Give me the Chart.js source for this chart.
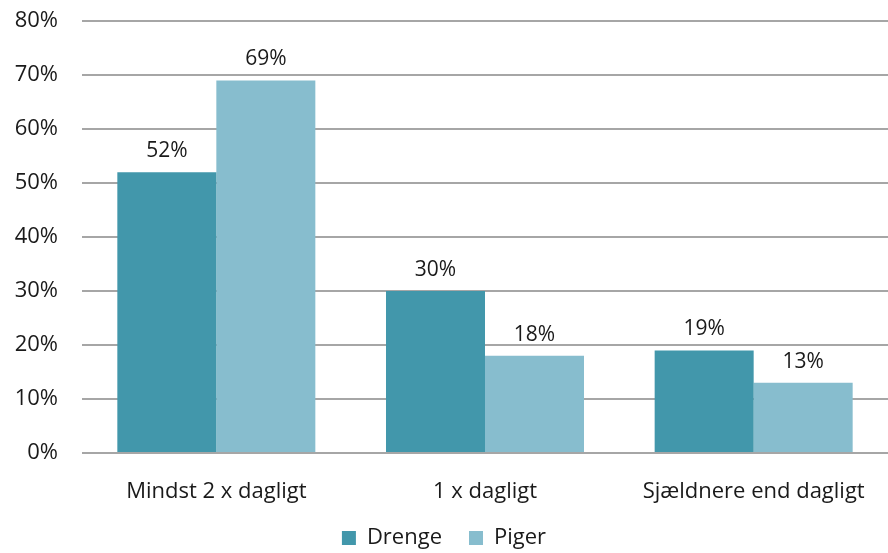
<!DOCTYPE html>
<html>
<head>
<meta charset="utf-8">
<script src="https://cdn.jsdelivr.net/npm/chart.js@4/dist/chart.umd.min.js"></script>
<style>
  html, body { margin: 0; padding: 0; background: #ffffff; }
  #wrap { width: 888px; height: 553px; position: relative; }
</style>
</head>
<body>
<div id="wrap"><canvas id="c"></canvas></div>
<script>
const categories = ['Mindst 2 x dagligt', '1 x dagligt', 'Sjældnere end dagligt'];
const drenge = [52, 30, 19];
const piger = [69, 18, 13];
const seriesNames = ['Drenge', 'Piger'];
const yTicks = [0, 10, 20, 30, 40, 50, 60, 70, 80];

const FONT = "'Open Sans', 'Noto Sans', sans-serif";
const TEXT = '#1a1a1a';
const LEGEND_PAD = 27;
const LEGEND_FIT_H = 30;
const LEGEND_CENTER_Y = 538;

// Percent labels written above every bar
const valueLabels = {
  id: 'valueLabels',
  afterDatasetsDraw(chart) {
    const ctx = chart.ctx;
    ctx.save();
    ctx.font = '21px ' + FONT;
    ctx.fillStyle = TEXT;
    ctx.textAlign = 'center';
    ctx.textBaseline = 'alphabetic';
    chart.data.datasets.forEach((ds, i) => {
      chart.getDatasetMeta(i).data.forEach((bar, j) => {
        ctx.fillText(ds.data[j] + '%', bar.x, bar.y - 15);
      });
    });
    ctx.restore();
  }
};

// Compact legend box (wide item spacing, short height) near the bottom edge
const legendPlacement = {
  id: 'legendPlacement',
  beforeLayout(chart) {
    const lg = chart.legend;
    if (lg && !lg._compactFit) {
      const fit = lg.fit.bind(lg);
      lg.fit = function () { fit(); this.height = LEGEND_FIT_H; };
      lg._compactFit = true;
    }
  },
  afterLayout(chart) {
    const lg = chart.legend;
    if (!lg) return;
    lg.top = LEGEND_CENTER_Y - LEGEND_PAD - 11;
    lg.bottom = chart.height;
  }
};

new Chart(document.getElementById('c'), {
  type: 'bar',
  data: {
    labels: categories,
    datasets: [
      { label: seriesNames[0], data: drenge, backgroundColor: '#4297AB' },
      { label: seriesNames[1], data: piger, backgroundColor: '#87BDCE' }
    ]
  },
  options: {
    responsive: true,
    maintainAspectRatio: false,
    animation: false,
    layout: { padding: { top: 21, right: 0, left: 0, bottom: 0 } },
    datasets: { bar: { categoryPercentage: 0.737, barPercentage: 1.0 } },
    scales: {
      x: {
        grid: { display: false },
        border: { display: false },
        ticks: { color: TEXT, font: { family: FONT, size: 22 }, padding: 18, autoSkip: false, maxRotation: 0 },
        afterFit(axis) { axis.height = 70; }
      },
      y: {
        min: 0,
        max: 80,
        afterBuildTicks(axis) { axis.ticks = yTicks.map(v => ({ value: v })); },
        afterFit(axis) { axis.width = 82; },
        grid: { color: '#A6A6A6', lineWidth: 2, drawTicks: true, tickLength: 24, tickColor: 'rgba(0,0,0,0)' },
        border: { display: false },
        ticks: {
          color: TEXT,
          font: { family: FONT, size: 22 },
          padding: 0,
          callback: v => v + '%'
        }
      }
    },
    plugins: {
      legend: {
        position: 'bottom',
        labels: {
          color: TEXT,
          font: { family: FONT, size: 22 },
          boxWidth: 14,
          boxHeight: 14,
          padding: LEGEND_PAD
        }
      },
      tooltip: { enabled: false }
    }
  },
  plugins: [valueLabels, legendPlacement]
});
</script>
</body>
</html>
